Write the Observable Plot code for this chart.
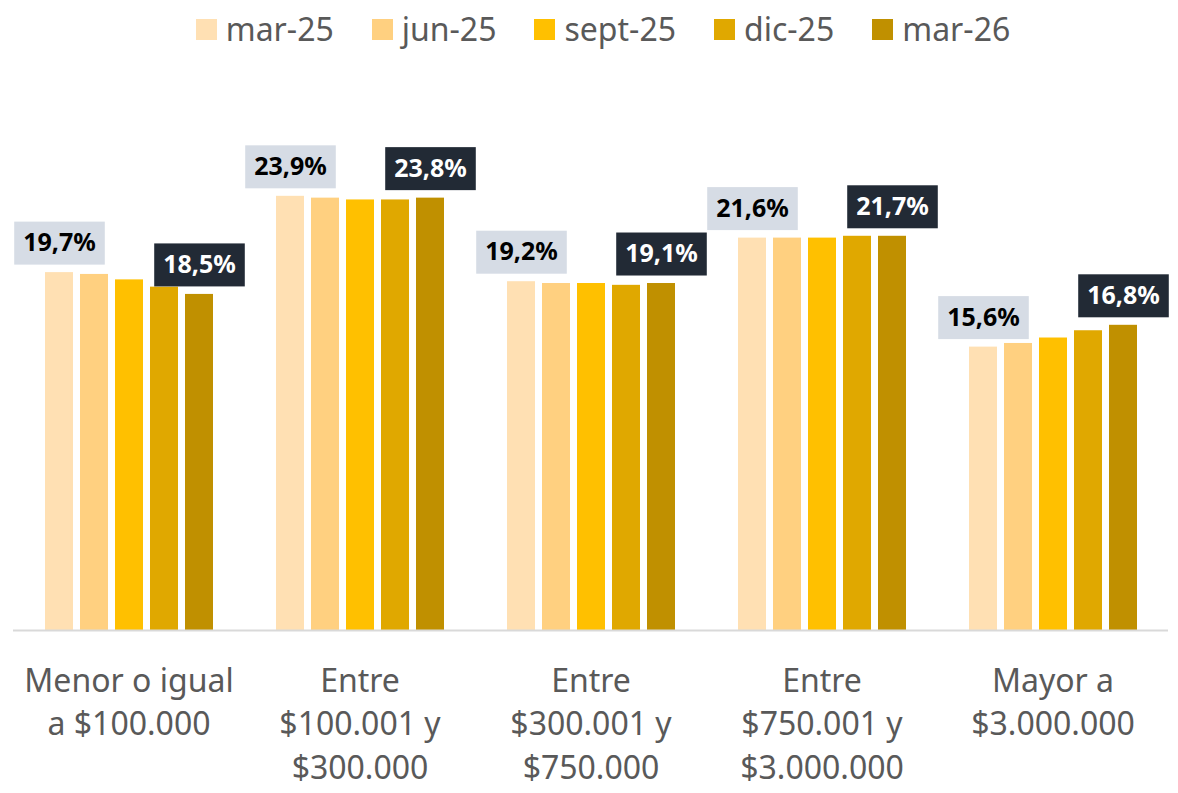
<!DOCTYPE html>
<html><head><meta charset="utf-8">
<script src="https://cdn.jsdelivr.net/npm/d3@7"></script>
<script src="https://cdn.jsdelivr.net/npm/@observablehq/plot@0.6"></script>
<style>
body{margin:0;background:#fff;font-family:"Noto Sans",sans-serif;}
#legend{height:58px;display:flex;justify-content:center;align-items:center;padding-left:28px;box-sizing:border-box;}
.item{display:flex;align-items:center;margin:0 19px;font-size:32px;line-height:1;color:#595959;}
.sw{width:21px;height:21px;margin-right:9px;}
#chart svg{display:block;}
</style></head><body>
<div id="legend"></div>
<div id="chart"></div>
<script>
const categories = ["Menor o igual\na $100.000", "Entre\n$100.001 y\n$300.000", "Entre\n$300.001 y\n$750.000", "Entre\n$750.001 y\n$3.000.000", "Mayor a\n$3.000.000"];
const series = ["mar-25", "jun-25", "sept-25", "dic-25", "mar-26"];
const colors = ["#FFE0B3", "#FFD080", "#FFC000", "#E0A800", "#C09000"];
const mar25 = [19.7, 23.9, 19.2, 21.6, 15.6];
const jun25 = [19.6, 23.8, 19.1, 21.6, 15.8];
const sept25 = [19.3, 23.7, 19.1, 21.6, 16.1];
const dic25 = [18.9, 23.7, 19.0, 21.7, 16.5];
const mar26 = [18.5, 23.8, 19.1, 21.7, 16.8];
const values = [mar25, jun25, sept25, dic25, mar26];

const data = [];
series.forEach((s, i) => categories.forEach((c, j) => data.push({cat: c, series: s, value: values[i][j]})));
const fmt = v => v.toFixed(1).replace(".", ",") + "%";

// legend
const leg = document.getElementById("legend");
series.forEach((s, i) => {
  const it = document.createElement("div"); it.className = "item";
  const sw = document.createElement("div"); sw.className = "sw"; sw.style.background = colors[i];
  const tx = document.createElement("span"); tx.textContent = s;
  it.append(sw, tx); leg.append(it);
});

const chart = Plot.plot({
  width: 1178, height: 735,
  marginLeft: 13, marginRight: 10, marginTop: 27, marginBottom: 163,
  style: {fontFamily: '"Noto Sans", sans-serif', background: "#fff"},
  fx: {domain: categories, padding: 0, label: null},
  x: {domain: series, paddingInner: 0.2, paddingOuter: 0.86, axis: null},
  y: {domain: [0, 30], axis: null},
  color: {domain: series, range: colors},
  marks: [
    Plot.barY(data, {fx: "cat", x: "series", y: "value", fill: "series"}),
    Plot.ruleY([0], {stroke: "#D9D9D9", strokeWidth: 2}),
    Plot.text(data.filter(d => d.series === series[0]), {fx: "cat", x: "series", y: "value", text: d => fmt(d.value), dy: -29.5, lineAnchor: "middle", fill: "#000", fontWeight: "bold", fontSize: 25, className: "lbl-light"}),
    Plot.text(data.filter(d => d.series === series[4]), {fx: "cat", x: "series", y: "value", text: d => fmt(d.value), dy: -29.5, lineAnchor: "middle", fill: "#fff", fontWeight: "bold", fontSize: 25, className: "lbl-dark"}),
    Plot.axisFx({anchor: "bottom", tickSize: 0, tickPadding: 30, fontSize: 32, lineHeight: 1.37, fill: "#595959", label: null})
  ]
});
document.getElementById("chart").append(chart);

const NS = "http://www.w3.org/2000/svg";
for (const [cls, bg] of [["lbl-light", "#D6DCE5"], ["lbl-dark", "#222A35"]]) {
  chart.querySelectorAll(`g.${cls} text`).forEach(t => {
    const b = t.getBBox();
    const r = document.createElementNS(NS, "rect");
    r.setAttribute("x", b.x - 9);
    r.setAttribute("width", b.width + 18);
    r.setAttribute("y", -21.5);
    r.setAttribute("height", 43);
    r.setAttribute("fill", bg);
    if (t.getAttribute("transform")) r.setAttribute("transform", t.getAttribute("transform"));
    t.parentNode.insertBefore(r, t);
  });
}
</script>
</body></html>
